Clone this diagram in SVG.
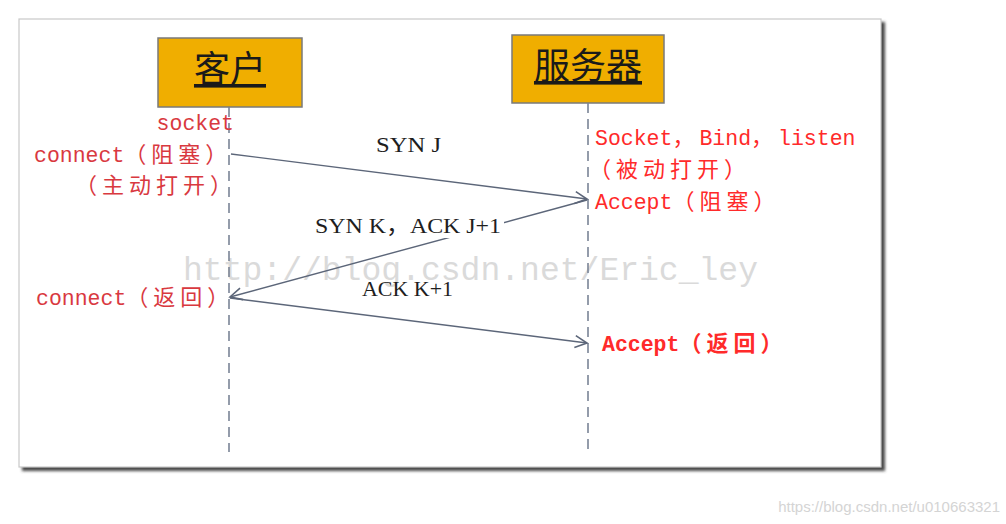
<svg xmlns="http://www.w3.org/2000/svg" width="1006" height="524" viewBox="0 0 1006 524">
<defs>
<filter id="sh" x="-5%" y="-5%" width="110%" height="110%"><feGaussianBlur stdDeviation="1.5"/></filter>
<marker id="arr" markerUnits="userSpaceOnUse" markerWidth="16" markerHeight="16" viewBox="0 0 16 16" refX="14" refY="8" orient="auto">
<path d="M2,2 L14,8 L2,14" fill="none" stroke="#5c6679" stroke-width="1.6"/>
</marker>
<style>
.box{fill:#f0ae00;stroke:#7a7a7a;stroke-width:1.5}
.title{font-family:"Noto Sans CJK SC",sans-serif;font-size:36px;fill:#1a1a1a;text-anchor:middle;text-decoration:underline}
.life{stroke:#7a8496;stroke-width:1.6;stroke-dasharray:10,6;fill:none}
.msg{stroke:#5c6679;stroke-width:1.4;fill:none}
.cl{font-family:"Liberation Mono","Noto Sans CJK SC",monospace;font-size:21.5px;fill:#d9393f}
.sv{font-family:"Liberation Mono","Noto Sans CJK SC",monospace;font-size:21.5px;fill:#ff2a2a}
.cj{font-family:"Noto Sans CJK SC",sans-serif;font-size:22px;letter-spacing:5px}
.lbl{font-family:"Liberation Serif","Noto Sans CJK SC",serif;font-size:22px;fill:#1e1e1e}
</style>
</defs>
<rect width="1006" height="524" fill="#fff"/>
<!-- frame -->
<rect x="22" y="22" width="863" height="449" fill="#4a4a4a" filter="url(#sh)"/>
<rect x="19" y="19" width="862" height="448" fill="#fff" stroke="#c8c8c8" stroke-width="1.2"/>
<!-- watermark -->
<text x="183" y="280" font-family="Liberation Mono,monospace" font-size="33" fill="#dadada" textLength="575" lengthAdjust="spacingAndGlyphs">http://blog.csdn.net/Eric_ley</text>
<g id="client">
<rect class="box" x="158" y="38" width="144" height="69"/>
<text class="title" x="230" y="82">客户</text>
<line class="life" x1="229" y1="107" x2="229" y2="452"/>
</g>
<g id="server">
<rect class="box" x="512" y="35" width="152" height="68"/>
<text class="title" x="588" y="79">服务器</text>
<line class="life" x1="588" y1="103" x2="588" y2="452"/>
</g>
<g id="connectors">
<line class="msg" x1="231" y1="154" x2="587" y2="199" marker-end="url(#arr)"/>
<line class="msg" x1="587" y1="200" x2="230" y2="297" marker-end="url(#arr)"/>
<line class="msg" x1="230" y1="298" x2="587" y2="343" marker-end="url(#arr)"/>
</g>
<g id="labels">
<text class="lbl" x="376" y="152" textLength="65" lengthAdjust="spacingAndGlyphs">SYN J</text>
<rect x="310" y="212" width="194" height="26" fill="#fff"/>
<text class="lbl" x="315" y="233" textLength="186" lengthAdjust="spacingAndGlyphs">SYN K，ACK J+1</text>
<text class="lbl" x="362" y="296" textLength="91" lengthAdjust="spacingAndGlyphs">ACK K+1</text>
</g>
<g id="client-notes">
<text class="cl" x="234" y="130" text-anchor="end">socket</text>
<text class="cl" x="34" y="162">connect<tspan class="cj">（阻塞）</tspan></text>
<text class="cl" x="237" y="193" text-anchor="end"><tspan class="cj">（主动打开）</tspan></text>
<text class="cl" x="36" y="305">connect<tspan class="cj">（返回）</tspan></text>
</g>
<g id="server-notes">
<text class="sv" x="595" y="145">Socket<tspan class="cj">，</tspan>Bind<tspan class="cj">，</tspan>listen</text>
<text class="sv" x="589" y="177"><tspan class="cj">（被动打开）</tspan></text>
<text class="sv" x="595" y="209">Accept<tspan class="cj">（阻塞）</tspan></text>
<text class="sv" x="602" y="351" font-weight="bold">Accept<tspan class="cj">（返回）</tspan></text>
</g>
<text x="1000" y="512" text-anchor="end" font-family="Liberation Sans,sans-serif" font-size="15" fill="#d4d4d4">https://blog.csdn.net/u010663321</text>
</svg>
